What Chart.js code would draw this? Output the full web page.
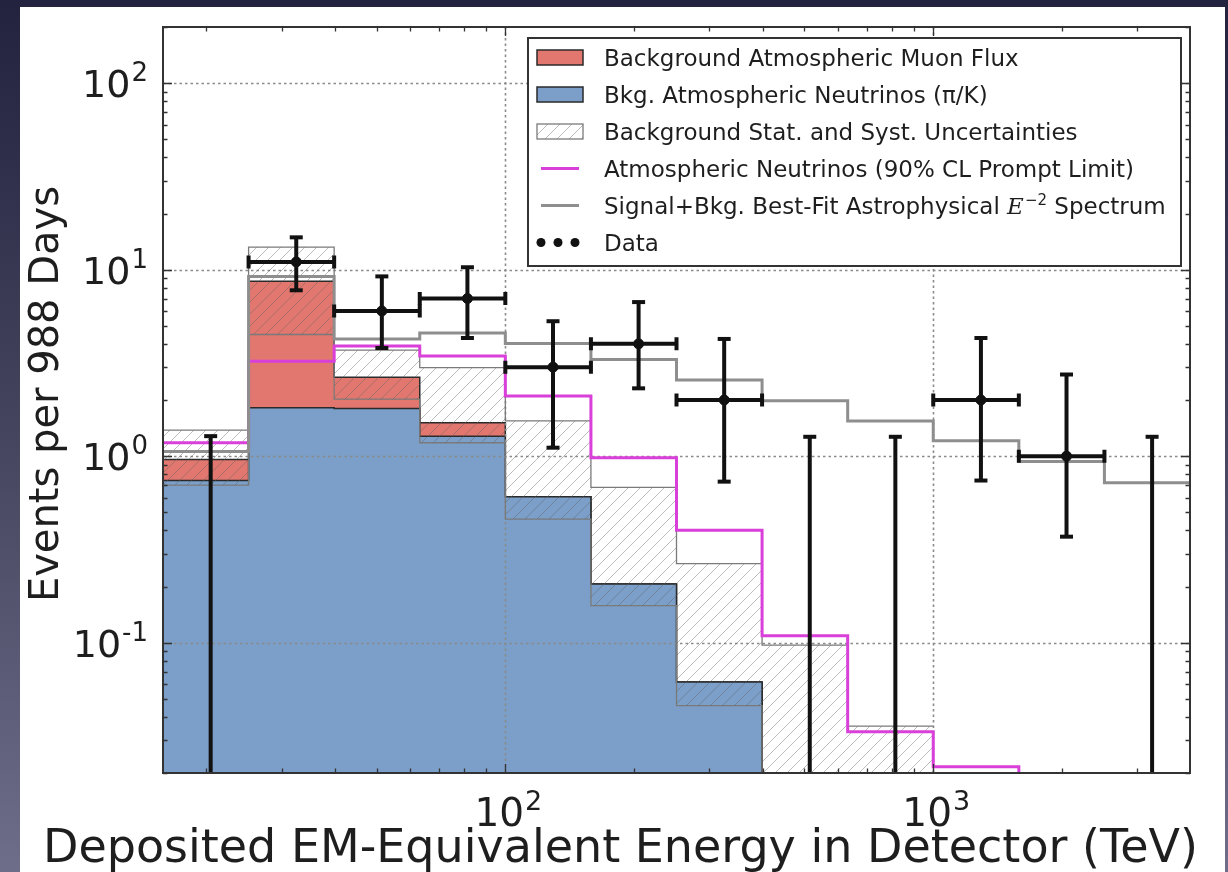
<!DOCTYPE html>
<html>
<head>
<meta charset="utf-8">
<script src="https://cdn.jsdelivr.net/npm/chart.js@4.4.1/dist/chart.umd.min.js"></script>
<style>
  html, body { margin: 0; padding: 0; width: 1228px; height: 872px; overflow: hidden;
    background: linear-gradient(to bottom, #23223f 0%, #46455f 50%, #6e6d8a 100%); }
  #panel { position: absolute; left: 20px; top: 7px; width: 1205px; height: 865px; background: #ffffff; }
  #wrap { position: absolute; left: 0; top: 0; width: 1228px; height: 872px; }
</style>
</head>
<body>
<div id="panel"></div>
<div id="wrap"><canvas id="c" width="1228" height="872"></canvas></div>
<script>
// Deposited-energy bin edges (TeV), 0.2 decades per bin
const binEdges = [15.85, 25.12, 39.81, 63.10, 100.0, 158.5, 251.2, 398.1, 631.0, 1000, 1585, 2512, 3981];

// Expected background per bin (events per 988 days)
const atmNeutrinoPiK = [0.74, 1.82, 1.80, 1.28, 0.605, 0.206, 0.0616];
const atmMuonFlux    = [0.22, 6.84, 0.85, 0.23, 0, 0, 0];
const bkgUncLow      = [0.70, 4.49, 2.02, 1.18, 0.46, 0.158, 0.046, 0.010, 0.005];
const bkgUncHigh     = [1.38, 13.2, 3.70, 2.98, 1.545, 0.68, 0.265, 0.097, 0.0357];

// Prompt-limit and best-fit E^-2 expectations
const promptLimit = [1.18, 3.23, 3.90, 3.44, 2.10, 0.98, 0.40, 0.109, 0.0333, 0.0216, 0.010, 0.004];
const bestFitE2   = [1.06, 9.2, 4.25, 4.58, 4.02, 3.30, 2.56, 1.98, 1.545, 1.21, 0.935, 0.72];

// Observed events with their intervals (empty bins carry only an upper limit)
const dataCounts  = [0, 11, 6, 7, 3, 4, 2, 0, 0, 2, 1, 0];
const dataErrLow  = [null, 7.75, 3.8, 4.3, 1.11, 2.31, 0.73, null, null, 0.74, 0.37, null];
const dataErrHigh = [1.28, 14.9, 9.2, 10.3, 5.29, 6.7, 4.25, 1.27, 1.27, 4.3, 2.74, 1.27];

// Axes
const yRange = [0.02, 200];
const yMajorExp = [-1, 0, 1, 2];
const xMajorExp = [2, 3];
const xTitle = 'Deposited EM-Equivalent Energy in Detector (TeV)';
const yTitle = 'Events per 988 Days';

const legendLabels = [
  'Background Atmospheric Muon Flux',
  'Bkg. Atmospheric Neutrinos (\u03c0/K)',
  'Background Stat. and Syst. Uncertainties',
  'Atmospheric Neutrinos (90% CL Prompt Limit)',
  'Signal+Bkg. Best-Fit Astrophysical E\u207b\u00b2 Spectrum',
  'Data'
];

const COL = {
  blue: '#7b9fc8', red: '#e2776f', edge: '#2a2a2a', magenta: '#d93fd9',
  gray: '#8e8e8e', band: '#7a7a7a', data: '#111111', grid: '#8a8a8a', axis: '#333333', text: '#1e1e1e'
};
const FONT = '"DejaVu Sans", "Liberation Sans", sans-serif';

// Step outline: value i holds from edge i to edge i+1
function stepPoints(vals, dropEnd) {
  const pts = vals.map((v, i) => ({ x: binEdges[i], y: v }));
  pts.push({ x: binEdges[vals.length], y: vals[vals.length - 1] });
  if (dropEnd) pts.push({ x: binEdges[vals.length], y: yRange[0] / 10 });
  return pts;
}
const bkgTotal = atmNeutrinoPiK.map((v, i) => v + atmMuonFlux[i]);
const binMid = dataCounts.map((_, i) => (binEdges[i] + binEdges[i + 1]) / 2);

function makeHatch(bg) {
  const s = 12;
  const c = document.createElement('canvas');
  c.width = s; c.height = s;
  const g = c.getContext('2d');
  if (bg) { g.fillStyle = bg; g.fillRect(0, 0, s, s); }
  g.strokeStyle = 'rgba(95,95,95,0.42)';
  g.lineWidth = 1;
  g.beginPath();
  g.moveTo(0, s); g.lineTo(s, 0);
  g.moveTo(-s / 2, s / 2); g.lineTo(s / 2, -s / 2);
  g.moveTo(s / 2, s * 1.5); g.lineTo(s * 1.5, s / 2);
  g.stroke();
  return g.createPattern(c, 'repeat');
}
const hatch = makeHatch(null);

const stepLine = { stepped: 'before', pointRadius: 0, tension: 0 };

const datasets = [
  { label: legendLabels[5], data: dataCounts.map((v, i) => ({ x: binMid[i], y: v })).filter(p => p.y > 0),
    showLine: false, pointRadius: 5, pointBackgroundColor: COL.data, pointBorderColor: COL.data, order: 0 },
  Object.assign({ label: legendLabels[4], data: stepPoints(bestFitE2, false),
    borderColor: COL.gray, borderWidth: 3, fill: false, order: 1 }, stepLine),
  Object.assign({ label: legendLabels[3], data: stepPoints(promptLimit, false),
    borderColor: COL.magenta, borderWidth: 3, fill: false, order: 2 }, stepLine),
  Object.assign({ label: legendLabels[2], data: stepPoints(bkgUncHigh, false),
    borderColor: COL.band, borderWidth: 1.3, backgroundColor: hatch, fill: 4, order: 3 }, stepLine),
  Object.assign({ label: legendLabels[2] + ' (lower)', data: stepPoints(bkgUncLow, false),
    borderColor: COL.band, borderWidth: 1.3, fill: false, order: 4 }, stepLine),
  Object.assign({ label: legendLabels[0], data: stepPoints(bkgTotal, true),
    borderColor: COL.edge, borderWidth: 1.5, backgroundColor: COL.red, fill: 'origin', order: 6 }, stepLine),
  Object.assign({ label: legendLabels[1], data: stepPoints(atmNeutrinoPiK, true),
    borderColor: COL.edge, borderWidth: 1.5, backgroundColor: COL.blue, fill: 'origin', order: 5 }, stepLine)
];
const BLUE_INDEX = 6;

function decadeValues(lo, hi) {
  const major = [], minor = [];
  for (let e = Math.floor(Math.log10(lo)); e <= Math.ceil(Math.log10(hi)); e++) {
    for (let k = 1; k <= 9; k++) {
      const v = k * Math.pow(10, e);
      if (v < lo * 0.999 || v > hi * 1.001) continue;
      (k === 1 ? major : minor).push(v);
    }
  }
  return { major, minor };
}

function drawPower(ctx, exp, x, yBase, size, align) {
  const base = '10', sup = String(exp);
  ctx.font = size + 'px ' + FONT;
  const wb = ctx.measureText(base).width;
  const supSize = Math.round(size * 0.68);
  ctx.font = supSize + 'px ' + FONT;
  const ws = ctx.measureText(sup).width;
  const total = wb + ws + 1;
  let x0 = align === 'right' ? x - total : x - total / 2;
  ctx.textAlign = 'left';
  ctx.textBaseline = 'alphabetic';
  ctx.font = size + 'px ' + FONT;
  ctx.fillText(base, x0, yBase);
  ctx.font = supSize + 'px ' + FONT;
  ctx.fillText(sup, x0 + wb + 1, yBase - size * 0.42);
}

function drawLegendLabel(ctx, text, x, y) {
  ctx.textAlign = 'left';
  ctx.textBaseline = 'alphabetic';
  const key = 'E\u207b\u00b2';
  const idx = text.indexOf(key);
  ctx.font = '23px ' + FONT;
  if (idx < 0) { ctx.fillText(text, x, y); return; }
  const a = text.slice(0, idx), b = text.slice(idx + key.length);
  ctx.fillText(a, x, y);
  let cx = x + ctx.measureText(a).width;
  ctx.font = 'italic 23px "DejaVu Serif", serif';
  ctx.fillText('E', cx, y);
  cx += ctx.measureText('E').width + 1;
  ctx.font = '15px ' + FONT;
  ctx.fillText('\u22122', cx, y - 9);
  cx += ctx.measureText('\u22122').width;
  ctx.font = '23px ' + FONT;
  ctx.fillText(b, cx, y);
}

const decor = {
  id: 'decor',
  afterDatasetDraw(chart, args) {
    if (args.index !== BLUE_INDEX) return;
    // dotted major grid, drawn over the filled histograms
    const { ctx, chartArea: a, scales: { x, y } } = chart;
    ctx.save();
    ctx.beginPath(); ctx.rect(a.left, a.top, a.right - a.left, a.bottom - a.top); ctx.clip();
    ctx.strokeStyle = COL.grid; ctx.lineWidth = 1.6; ctx.setLineDash([2.5, 3]);
    yMajorExp.forEach(e => {
      const py = Math.round(y.getPixelForValue(Math.pow(10, e))) + 0.5;
      ctx.beginPath(); ctx.moveTo(a.left, py); ctx.lineTo(a.right, py); ctx.stroke();
    });
    xMajorExp.forEach(e => {
      const px = Math.round(x.getPixelForValue(Math.pow(10, e))) + 0.5;
      ctx.beginPath(); ctx.moveTo(px, a.top); ctx.lineTo(px, a.bottom); ctx.stroke();
    });
    ctx.restore();
  },
  afterDatasetsDraw(chart) {
    const { ctx, chartArea: a, scales: { x, y } } = chart;
    ctx.save();
    // error bars
    ctx.save();
    ctx.beginPath(); ctx.rect(a.left, a.top, a.right - a.left, a.bottom - a.top); ctx.clip();
    ctx.strokeStyle = COL.data; ctx.lineWidth = 4; ctx.lineCap = 'butt';
    const cap = 6.5;
    dataCounts.forEach((n, i) => {
      const px = x.getPixelForValue(binMid[i]);
      const top = y.getPixelForValue(dataErrHigh[i]);
      const bot = dataErrLow[i] == null ? a.bottom + 10 : y.getPixelForValue(dataErrLow[i]);
      ctx.beginPath(); ctx.moveTo(px, bot); ctx.lineTo(px, top); ctx.stroke();
      ctx.beginPath(); ctx.moveTo(px - cap, top); ctx.lineTo(px + cap, top); ctx.stroke();
      if (dataErrLow[i] != null) {
        ctx.beginPath(); ctx.moveTo(px - cap, bot); ctx.lineTo(px + cap, bot); ctx.stroke();
      }
      if (n > 0) {
        const py = y.getPixelForValue(n);
        const xl = x.getPixelForValue(binEdges[i]), xr = x.getPixelForValue(binEdges[i + 1]);
        ctx.beginPath(); ctx.moveTo(xl, py); ctx.lineTo(xr, py); ctx.stroke();
        ctx.beginPath(); ctx.moveTo(xl, py - cap); ctx.lineTo(xl, py + cap);
        ctx.moveTo(xr, py - cap); ctx.lineTo(xr, py + cap); ctx.stroke();
      }
    });
    ctx.restore();

    // inward ticks on all four sides
    ctx.strokeStyle = COL.axis; ctx.lineWidth = 1.3; ctx.setLineDash([]);
    const xt = decadeValues(binEdges[0], binEdges[binEdges.length - 1]);
    const yt = decadeValues(yRange[0], yRange[1]);
    const tick = (vals, len) => {
      vals.forEach(v => {
        const px = Math.round(x.getPixelForValue(v)) + 0.5;
        ctx.beginPath();
        ctx.moveTo(px, a.bottom); ctx.lineTo(px, a.bottom - len);
        ctx.moveTo(px, a.top); ctx.lineTo(px, a.top + len);
        ctx.stroke();
      });
    };
    const ytick = (vals, len) => {
      vals.forEach(v => {
        const py = Math.round(y.getPixelForValue(v)) + 0.5;
        ctx.beginPath();
        ctx.moveTo(a.left, py); ctx.lineTo(a.left + len, py);
        ctx.moveTo(a.right, py); ctx.lineTo(a.right - len, py);
        ctx.stroke();
      });
    };
    tick(xt.major, 9); tick(xt.minor, 4.5);
    ytick(yt.major, 9); ytick(yt.minor, 4.5);

    // frame
    ctx.strokeStyle = COL.axis; ctx.lineWidth = 2;
    ctx.strokeRect(a.left, a.top, a.right - a.left, a.bottom - a.top);

    // legend
    const bx = 528, by = 38, bw = 653, bh = 228;
    ctx.fillStyle = '#ffffff'; ctx.fillRect(bx, by, bw, bh);
    ctx.strokeStyle = COL.axis; ctx.lineWidth = 2; ctx.strokeRect(bx, by, bw, bh);
    const rowY = i => 57.5 + i * 37;
    const px0 = 537, pw = 46, ph = 15;
    // muon flux patch
    ctx.fillStyle = COL.red; ctx.fillRect(px0, rowY(0) - ph / 2, pw, ph);
    ctx.strokeStyle = COL.edge; ctx.lineWidth = 1.5; ctx.strokeRect(px0, rowY(0) - ph / 2, pw, ph);
    // pi/K neutrino patch
    ctx.fillStyle = COL.blue; ctx.fillRect(px0, rowY(1) - ph / 2, pw, ph);
    ctx.strokeRect(px0, rowY(1) - ph / 2, pw, ph);
    // uncertainty patch
    ctx.fillStyle = hatch; ctx.fillRect(px0, rowY(2) - ph / 2, pw, ph);
    ctx.strokeStyle = COL.band; ctx.lineWidth = 1.3; ctx.strokeRect(px0, rowY(2) - ph / 2, pw, ph);
    // line samples
    ctx.lineWidth = 3;
    ctx.strokeStyle = COL.magenta;
    ctx.beginPath(); ctx.moveTo(541, rowY(3)); ctx.lineTo(579, rowY(3)); ctx.stroke();
    ctx.strokeStyle = COL.gray;
    ctx.beginPath(); ctx.moveTo(541, rowY(4)); ctx.lineTo(579, rowY(4)); ctx.stroke();
    // data markers
    ctx.fillStyle = COL.data;
    [541, 558, 575].forEach(mx => { ctx.beginPath(); ctx.arc(mx, rowY(5), 4.5, 0, Math.PI * 2); ctx.fill(); });
    ctx.fillStyle = COL.text;
    legendLabels.forEach((t, i) => drawLegendLabel(ctx, t, 604, rowY(i) + 8));

    // tick labels
    ctx.fillStyle = COL.text;
    yMajorExp.forEach(e => {
      const py = y.getPixelForValue(Math.pow(10, e));
      drawPower(ctx, e, 148, py + 14, 38, 'right');
    });
    xMajorExp.forEach(e => {
      const px = x.getPixelForValue(Math.pow(10, e));
      drawPower(ctx, e, px + 3, 826, 39, 'center');
    });

    // axis titles
    ctx.textBaseline = 'alphabetic';
    ctx.textAlign = 'center';
    ctx.font = '46px ' + FONT;
    ctx.fillText(xTitle, (a.left + a.right) / 2 - 56, 862);
    ctx.save();
    ctx.translate(58, (a.top + a.bottom) / 2 - 6);
    ctx.rotate(-Math.PI / 2);
    ctx.font = '40px ' + FONT;
    ctx.fillText(yTitle, 0, 0);
    ctx.restore();

    ctx.restore();
  }
};

new Chart(document.getElementById('c').getContext('2d'), {
  type: 'line',
  data: { datasets },
  options: {
    responsive: false,
    animation: false,
    layout: { padding: { left: 163, top: 27, right: 38, bottom: 99 } },
    plugins: { legend: { display: false }, tooltip: { enabled: false } },
    scales: {
      x: { type: 'logarithmic', min: binEdges[0], max: binEdges[binEdges.length - 1], display: false },
      y: { type: 'logarithmic', min: yRange[0], max: yRange[1], display: false }
    }
  },
  plugins: [decor]
});
</script>
</body>
</html>
